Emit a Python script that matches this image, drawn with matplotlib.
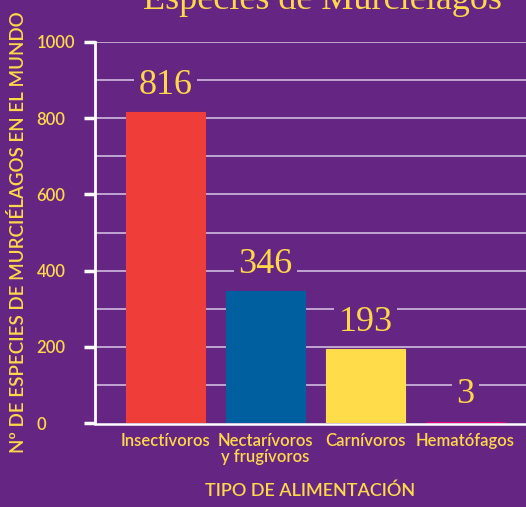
import matplotlib
import matplotlib.pyplot as plt

matplotlib.use("Agg")

BG_COLOR = "#652583"
TEXT_COLOR = "#FFD84A"
GRID_COLOR = "#d8c8e6"

categories = ["Insectívoros", "Nectarívoros\ny frugívoros", "Carnívoros", "Hematófagos"]
species = [816, 346, 193, 3]
bar_colors = ["#EF3E3A", "#005F9F", "#FFDC4A", "#E6007E"]
y_ticks = [0, 200, 400, 600, 800, 1000]
grid_levels = [100, 200, 300, 400, 500, 600, 700, 800, 900, 1000]

SANS = ["Lato", "DejaVu Sans"]
SERIF = ["Liberation Serif", "DejaVu Serif"]

fig = plt.figure(figsize=(5.26, 5.07), dpi=100, facecolor=BG_COLOR)
ax = fig.add_axes([95 / 526, 84 / 507, 431 / 526, 381 / 507])
ax.set_facecolor(BG_COLOR)

for level in grid_levels:
    ax.axhline(level, color=GRID_COLOR, linewidth=1.1, zorder=1)

x = list(range(len(categories)))
ax.bar(x, species, width=0.79, color=bar_colors, edgecolor=bar_colors, linewidth=0.8, zorder=4)

for xi, value in zip(x, species):
    ax.annotate(
        str(value),
        xy=(xi, value),
        xytext=(0, 27),
        textcoords="offset pixels",
        ha="center",
        va="center",
        fontsize=26,
        family=SERIF,
        color=TEXT_COLOR,
        zorder=5,
        bbox=dict(boxstyle="square,pad=0.12", facecolor=BG_COLOR, edgecolor="none"),
    )

ax.set_xlim(-0.705, 3.605)
ax.set_ylim(0, 1000)

for side in ["top", "right"]:
    ax.spines[side].set_visible(False)
ax.spines["left"].set_color("white")
ax.spines["left"].set_linewidth(2)
ax.spines["bottom"].set_color("white")
ax.spines["bottom"].set_linewidth(1.8)
ax.spines["bottom"].set_position(("outward", 1))
ax.spines["bottom"].set_zorder(3)

ax.set_yticks(y_ticks)
ax.set_yticklabels([str(t) for t in y_ticks], ha="left", family=SANS, fontsize=12,
                   fontweight="semibold", color=TEXT_COLOR)
ax.tick_params(axis="y", direction="out", length=8, width=2.5, color="white", pad=34)

ax.set_xticks(x)
ax.set_xticklabels(categories, family=SANS, fontsize=12, fontweight="semibold",
                   color=TEXT_COLOR, linespacing=1.05)
ax.tick_params(axis="x", length=0, pad=6)

ax.set_xlabel("TIPO DE ALIMENTACIÓN", family=SANS, fontsize=13, fontweight="semibold",
              color=TEXT_COLOR, labelpad=12)

fig.text(
    18 / 526,
    54 / 507,
    "Nº DE ESPECIES DE MURCIÉLAGOS EN EL MUNDO",
    rotation=90,
    ha="center",
    va="bottom",
    family=SANS,
    fontsize=13.5,
    fontweight="semibold",
    color=TEXT_COLOR,
)

fig.text(
    322 / 526,
    498 / 507,
    "Especies de Murciélagos",
    ha="center",
    va="baseline",
    family=SERIF,
    fontsize=26,
    color=TEXT_COLOR,
)

fig.savefig("out.png", dpi=100, facecolor=BG_COLOR)
